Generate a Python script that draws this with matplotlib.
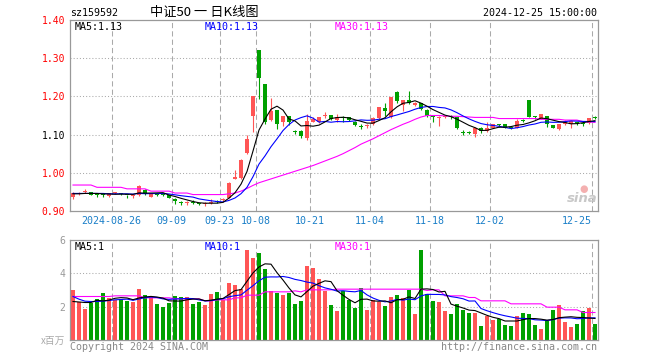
import numpy as np
import pandas as pd
import matplotlib
matplotlib.use("Agg")
import matplotlib.pyplot as plt

# ---------------- data ----------------
opens = [0.937, 0.945, 0.949, 0.950, 0.943, 0.943, 0.938, 0.946, 0.947, 0.942,
         0.939, 0.941, 0.956, 0.937, 0.944, 0.944, 0.941, 0.932, 0.922, 0.921,
         0.923, 0.921, 0.918, 0.920, 0.924, 0.928, 0.935, 0.984, 0.987, 1.051,
         1.149, 1.322, 1.232, 1.138, 1.164, 1.133, 1.149, 1.108, 1.110, 1.092,
         1.134, 1.133, 1.148, 1.151, 1.137, 1.146, 1.145, 1.134, 1.122, 1.122,
         1.127, 1.143, 1.169, 1.145, 1.211, 1.178, 1.190, 1.178, 1.182, 1.164,
         1.146, 1.144, 1.146, 1.148, 1.145, 1.106, 1.106, 1.101, 1.118, 1.110,
         1.118, 1.125, 1.127, 1.119, 1.118, 1.137, 1.190, 1.146, 1.142, 1.148,
         1.125, 1.114, 1.129, 1.127, 1.131, 1.130, 1.130, 1.146]
highs = [0.951, 0.949, 0.958, 0.951, 0.945, 0.944, 0.947, 0.950, 0.948, 0.943,
         0.942, 0.967, 0.958, 0.947, 0.946, 0.945, 0.943, 0.933, 0.925, 0.927,
         0.929, 0.922, 0.923, 0.932, 0.930, 0.934, 0.975, 1.008, 1.035, 1.099,
         1.200, 1.322, 1.232, 1.196, 1.165, 1.150, 1.150, 1.113, 1.111, 1.155,
         1.145, 1.147, 1.160, 1.152, 1.154, 1.150, 1.147, 1.136, 1.127, 1.129,
         1.145, 1.172, 1.182, 1.199, 1.215, 1.191, 1.213, 1.186, 1.184, 1.166,
         1.149, 1.148, 1.150, 1.151, 1.147, 1.111, 1.110, 1.120, 1.120, 1.132,
         1.129, 1.127, 1.128, 1.121, 1.140, 1.140, 1.191, 1.148, 1.155, 1.150,
         1.126, 1.128, 1.138, 1.137, 1.134, 1.132, 1.144, 1.149]
lows = [0.932, 0.943, 0.947, 0.941, 0.937, 0.937, 0.936, 0.944, 0.943, 0.934,
        0.934, 0.940, 0.943, 0.936, 0.940, 0.938, 0.933, 0.918, 0.915, 0.917,
        0.918, 0.917, 0.912, 0.918, 0.921, 0.927, 0.933, 0.983, 0.985, 1.049,
        1.107, 1.192, 1.129, 1.136, 1.114, 1.123, 1.125, 1.101, 1.090, 1.086,
        1.133, 1.131, 1.144, 1.139, 1.134, 1.134, 1.135, 1.123, 1.114, 1.118,
        1.125, 1.141, 1.149, 1.143, 1.182, 1.162, 1.180, 1.176, 1.165, 1.145,
        1.132, 1.123, 1.144, 1.140, 1.114, 1.099, 1.101, 1.095, 1.103, 1.108,
        1.116, 1.120, 1.117, 1.115, 1.117, 1.132, 1.145, 1.142, 1.141, 1.120,
        1.116, 1.113, 1.125, 1.118, 1.125, 1.123, 1.129, 1.140]
closes = [0.948, 0.947, 0.951, 0.942, 0.942, 0.942, 0.946, 0.947, 0.944, 0.941,
          0.940, 0.965, 0.944, 0.945, 0.943, 0.943, 0.934, 0.925, 0.921, 0.922,
          0.922, 0.918, 0.919, 0.921, 0.923, 0.932, 0.974, 0.989, 1.033, 1.089,
          1.200, 1.249, 1.132, 1.162, 1.129, 1.149, 1.132, 1.107, 1.096, 1.135,
          1.140, 1.146, 1.149, 1.141, 1.147, 1.144, 1.137, 1.125, 1.121, 1.124,
          1.143, 1.171, 1.162, 1.198, 1.189, 1.190, 1.182, 1.184, 1.167, 1.149,
          1.145, 1.146, 1.148, 1.147, 1.116, 1.105, 1.105, 1.118, 1.110, 1.118,
          1.127, 1.124, 1.118, 1.118, 1.136, 1.136, 1.146, 1.145, 1.154, 1.127,
          1.117, 1.127, 1.134, 1.136, 1.130, 1.129, 1.143, 1.144]
volumes = [3.01, 2.31, 1.87, 2.25, 2.47, 2.83, 2.55, 2.41, 2.45, 2.37,
           2.31, 3.07, 2.71, 2.61, 2.19, 1.99, 2.25, 2.65, 2.59, 2.59,
           2.19, 2.29, 2.11, 2.77, 2.89, 2.41, 3.45, 3.31, 3.05, 5.40,
           4.92, 5.22, 4.26, 2.95, 2.85, 2.71, 2.83, 2.19, 2.35, 4.46,
           4.32, 3.67, 2.95, 2.11, 1.75, 2.95, 2.41, 1.95, 3.15, 1.81,
           2.41, 2.31, 2.05, 2.59, 2.71, 2.55, 3.03, 1.57, 5.40, 2.79,
           2.35, 2.29, 1.77, 1.57, 2.17, 1.81, 1.65, 1.63, 0.86, 1.45,
           1.22, 1.25, 0.92, 0.86, 1.45, 1.63, 1.57, 0.92, 0.68, 1.16,
           1.81, 2.11, 1.10, 0.80, 0.98, 1.75, 1.95, 0.98]
# moving averages as drawn at the left edge (they include days before the window)
ma5_head = [0.945, 0.945, 0.946, 0.946]
ma10_head = [0.946, 0.946, 0.946, 0.946, 0.946, 0.946, 0.945, 0.945, 0.945]
vol_ma5_head = [2.31, 2.28, 2.25, 2.25]
vol_ma10_head = [2.61, 2.45, 2.33, 2.31, 2.31, 2.33, 2.37, 2.41, 2.43]
ma30 = [0.968, 0.968, 0.968, 0.968, 0.962, 0.962, 0.962, 0.962, 0.962, 0.958,
        0.958, 0.958, 0.958, 0.952, 0.952, 0.952, 0.952, 0.947, 0.947, 0.947,
        0.943, 0.943, 0.943, 0.943, 0.943, 0.943, 0.945, 0.947, 0.952, 0.959,
        0.967, 0.974, 0.979, 0.984, 0.989, 0.994, 0.999, 1.004, 1.009, 1.014,
        1.019, 1.025, 1.031, 1.037, 1.043, 1.050, 1.058, 1.066, 1.075, 1.082,
        1.089, 1.097, 1.105, 1.113, 1.120, 1.127, 1.133, 1.140, 1.146, 1.150,
        1.150, 1.150, 1.149, 1.148, 1.148, 1.147, 1.146, 1.145, 1.145, 1.145,
        1.145, 1.142, 1.142, 1.142, 1.142, 1.142, 1.142, 1.142, 1.140, 1.140,
        1.140, 1.140, 1.138, 1.138, 1.138, 1.134, 1.133, 1.132]
vol_ma30 = [2.61, 2.61, 2.61, 2.61, 2.61, 2.61, 2.61, 2.65, 2.65, 2.65,
            2.65, 2.65, 2.53, 2.53, 2.53, 2.53, 2.53, 2.47, 2.47, 2.47,
            2.47, 2.47, 2.35, 2.35, 2.41, 2.41, 2.41, 2.53, 2.53, 2.69,
            2.69, 2.69, 2.89, 2.89, 2.89, 2.89, 2.89, 2.95, 2.89, 3.01,
            3.01, 3.01, 3.01, 3.01, 3.05, 3.05, 3.05, 3.05, 3.05, 3.05,
            3.05, 3.05, 3.05, 3.05, 3.05, 3.05, 3.05, 3.05, 3.05, 2.97,
            3.01, 3.01, 2.65, 2.65, 2.65, 2.65, 2.55, 2.55, 2.35, 2.35,
            2.35, 2.35, 2.35, 2.17, 2.17, 2.17, 2.17, 2.17, 2.17, 1.97,
            1.97, 1.97, 1.81, 1.81, 1.81, 1.65, 1.65, 1.65]
tick_labels = ["2024-08-26", "09-09", "09-23", "10-08", "10-21",
               "11-04", "11-18", "12-02", "12-25"]
tick_idx = [7, 17, 25, 31, 40, 50, 60, 70, 87]
price_ticks = [0.90, 1.00, 1.10, 1.20, 1.30, 1.40]
price_tick_labels = ["0.90", "1.00", "1.10", "1.20", "1.30", "1.40"]
vol_ticks = [2, 4, 6]

# ---------------- styling ----------------
RED = "#ff5555"
GREEN = "#00a000"
GRID = "#aaaaaa"
FRAME = "#999999"
MONO = "DejaVu Sans Mono"
W, H = 660, 360

o = np.array(opens); h = np.array(highs); l = np.array(lows); c = np.array(closes)
v = np.array(volumes)
n = len(c)
x = np.arange(n)
cols = np.where(c >= o, RED, GREEN)


def moving(values, win, head):
    s = pd.Series(values).rolling(win).mean().to_numpy()
    s[:len(head)] = head
    return s


ma5 = moving(c, 5, ma5_head)
ma10 = moving(c, 10, ma10_head)
vma5 = moving(v, 5, vol_ma5_head)
vma10 = moving(v, 10, vol_ma10_head)

fig = plt.figure(figsize=(W / 100, H / 100), dpi=100)
fig.patch.set_facecolor("white")

ax = fig.add_axes([70 / W, 1 - 211 / H, 528 / W, 191 / H])
axv = fig.add_axes([70 / W, 1 - 340 / H, 528 / W, 100 / H])

for a in (ax, axv):
    a.set_xlim(-0.5, n - 0.5)
    for s in a.spines.values():
        s.set_color(FRAME)
        s.set_linewidth(0.9)
    a.set_xticks([])
    a.tick_params(axis="y", length=0, pad=3.5, labelsize=7)
    for t in tick_idx:
        a.axvline(t - 0.45, color=GRID, lw=0.75, ls=(0, (5, 3)), zorder=0)

# price panel
ax.set_ylim(0.90, 1.40)
for yv in [1.0, 1.1, 1.2, 1.3]:
    ax.axhline(yv, color=GRID, lw=0.75, ls=(0, (1, 2)), zorder=0)
ax.vlines(x, l, h, colors=cols, lw=0.8, zorder=2)
body_b = np.minimum(o, c)
body_h = np.maximum(np.abs(c - o), 0.0026)
ax.bar(x, body_h, 0.8, bottom=body_b, color=cols, lw=0, zorder=3)
ax.plot(x, ma30, color="#ff00ff", lw=0.8, zorder=4)
ax.plot(x, ma10, color="#0000ff", lw=0.8, zorder=4)
ax.plot(x, ma5, color="black", lw=0.8, zorder=4)
ax.set_yticks(price_ticks)
ax.set_yticklabels(price_tick_labels, family=MONO)
for lab, val in zip(ax.get_yticklabels(), price_ticks):
    lab.set_color("black" if abs(val - 1.10) < 1e-9 else "#ff0000")

# volume panel
axv.set_ylim(0, 6)
for yv in [2, 4]:
    axv.axhline(yv, color=GRID, lw=0.75, ls=(0, (1, 2)), zorder=0)
axv.bar(x, v, 0.8, color=cols, lw=0, zorder=2)
axv.plot(x, vol_ma30, color="#ff00ff", lw=0.8, zorder=4)
axv.plot(x, vma10, color="#0000ff", lw=0.8, zorder=4)
axv.plot(x, vma5, color="black", lw=0.8, zorder=4)
axv.set_yticks(vol_ticks)
axv.set_yticklabels([str(t) for t in vol_ticks], family=MONO, color="#999999")


def ftext(px, py, s, **kw):
    kw.setdefault("family", MONO)
    kw.setdefault("fontsize", 7.2)
    kw.setdefault("va", "center")
    fig.text(px / W, 1 - py / H, s, **kw)


# header texts
ftext(70, 13, "sz159592", color="black")
ftext(150, 12.5, "中证50 一 日K线图", family=["Noto Sans CJK SC", "DejaVu Sans"],
      fontsize=9.5, color="black")
ftext(597, 13, "2024-12-25 15:00:00", color="black", ha="right")
ftext(75, 26.5, "MA5:1.13", color="black")
ftext(205, 26.5, "MA10:1.13", color="#0000ff")
ftext(335, 26.5, "MA30:1.13", color="#ff00ff")
ftext(75, 246.5, "MA5:1", color="black")
ftext(205, 246.5, "MA10:1", color="#0000ff")
ftext(335, 246.5, "MA30:1", color="#ff00ff")

# date labels
for t, lab in zip(tick_idx, tick_labels):
    gx = 70 + (t - 0.45 + 0.5) * 6
    if t == tick_idx[-1]:
        ftext(gx - 1, 221.5, lab, color="#1a7fc8", ha="right")
    else:
        ftext(gx - 1, 221.5, lab, color="#1a7fc8", ha="center")

# footer
ftext(65, 341, "x百万", family=["Noto Sans CJK SC", "DejaVu Sans"], fontsize=7,
      color="#aaaaaa", ha="right")
ftext(70, 346.5, "Copyright 2024 SINA.COM", color="#888888")
ftext(597, 346.5, "http://finance.sina.com.cn", color="#888888", ha="right")

# sina watermark
ftext(582, 199, "sina", family="DejaVu Sans", fontsize=9.5, weight="bold",
      style="italic", color="#c8c8c8", ha="center")
ftext(584, 189, "●", family="DejaVu Sans", fontsize=7, color="#f4b0b0", ha="center")

fig.savefig("out.png", dpi=100, facecolor="white")
